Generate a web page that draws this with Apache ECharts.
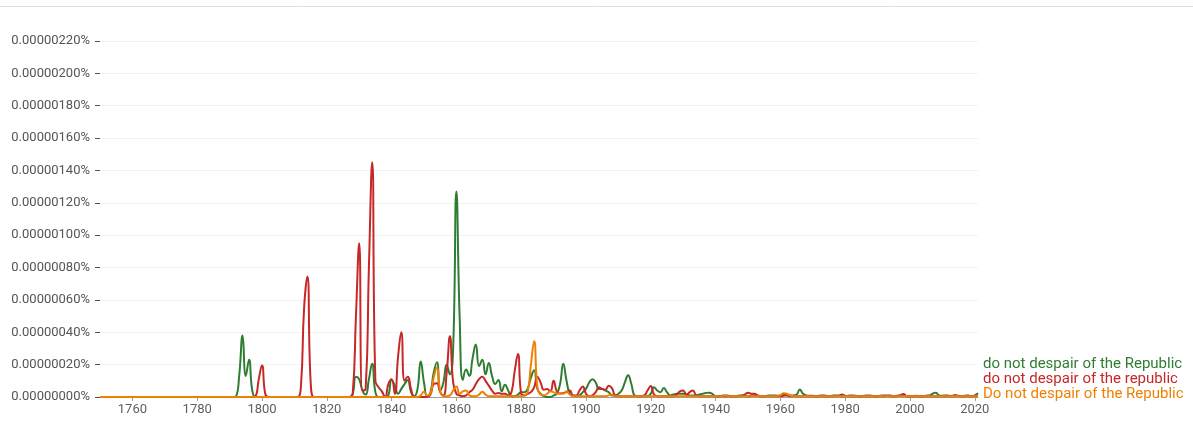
<!DOCTYPE html>
<html>
<head>
<meta charset="utf-8">
<script src="https://cdn.jsdelivr.net/npm/echarts@6/dist/echarts.min.js"></script>
<style>
html,body{margin:0;padding:0;background:#fff;}
#chart{width:1193px;height:428px;}
</style>
</head>
<body>
<div id="chart"></div>
<script>
// Values in units of 0.0000001 %
const UNIT = 1e-7;
const startYear = 1750;
const endYear = 2021;
const xTickYears = [1760,1780,1800,1820,1840,1860,1880,1900,1920,1940,1960,1980,2000,2020];
const seriesNames = ['do not despair of the Republic','do not despair of the republic','Do not despair of the Republic'];

const greenValues = [
0,0,0,0,0,0,0,0,0,0, // 1750
0,0,0,0,0,0,0,0,0,0, // 1760
0,0,0,0,0,0,0,0,0,0, // 1770
0,0,0,0,0,0,0,0,0,0, // 1780
0,0,0.05,1.4,3.8,1.3,2.3,0.4,0,0, // 1790
0,0,0,0,0,0,0,0,0,0, // 1800
0,0,0,0,0,0,0,0,0,0, // 1810
0,0,0,0,0,0,0,0,0.2,1.25, // 1820
1.1,0.4,0.15,1.1,2.05,0.3,0,0,0,0.1, // 1830
1.05,0.7,0.2,0.5,0.8,1.05,0.3,0.05,0.5,2.2, // 1840
0.9,0.05,0.3,1.5,2.15,0.4,0.9,2.0,1.4,3.0, // 1850
12.7,5.0,1.05,1.7,1.3,2.4,3.25,1.9,2.3,1.4, // 1860
2.1,1.3,0.8,1.05,0.35,0.75,0.4,0.05,0.05,0.15, // 1870
0.3,0.3,0.5,1.2,1.65,0.5,0.2,0.05,0,0, // 1880
0.1,0.2,0.8,2.05,1.0,0.2,0.1,0.05,0.1,0.3, // 1890
0.5,0.9,1.1,0.9,0.5,0.5,0.4,0.3,0.1,0.1, // 1900
0.2,0.4,0.9,1.35,0.8,0.1,0.05,0.05,0.05,0.05, // 1910
0.2,0.6,0.4,0.3,0.55,0.3,0.1,0.15,0.2,0.2, // 1920
0.2,0.15,0.1,0.1,0.1,0.15,0.2,0.25,0.27,0.2, // 1930
0.05,0.05,0.08,0.1,0.08,0.05,0.05,0.08,0.1,0.08, // 1940
0.05,0.08,0.1,0.08,0.05,0.05,0.08,0.1,0.1,0.08, // 1950
0.1,0.15,0.15,0.1,0.1,0.15,0.47,0.2,0.1,0.08, // 1960
0.08,0.05,0.08,0.1,0.08,0.05,0.08,0.1,0.08,0.05, // 1970
0.05,0.08,0.1,0.08,0.05,0.05,0.08,0.1,0.08,0.05, // 1980
0.05,0.08,0.1,0.08,0.05,0.05,0.08,0.1,0.08,0.05, // 1990
0.05,0.05,0.08,0.05,0.05,0.08,0.1,0.2,0.27,0.1, // 2000
0.08,0.1,0.08,0.05,0.05,0.08,0.05,0.08,0.1,0.05, // 2010
0.1,0.23 // 2020
];

const redValues = [
0,0,0,0,0,0,0,0,0,0, // 1750
0,0,0,0,0,0,0,0,0,0, // 1760
0,0,0,0,0,0,0,0,0,0, // 1770
0,0,0,0,0,0,0,0,0,0, // 1780
0,0,0,0,0,0,0,0,0.05,1.1, // 1790
1.95,0.2,0,0,0,0,0,0,0,0, // 1800
0,0,0.6,5.5,7.45,1.0,0,0,0,0, // 1810
0,0,0,0,0,0,0,0,0.2,5.0, // 1820
9.5,0.4,0.5,8.0,14.5,1.0,0.6,0.35,0,0.8, // 1830
1.1,0.2,2.5,4.0,1.0,1.25,0.5,0,0,0, // 1840
0,0,0.15,0.8,0.85,0.3,0.1,1.5,3.75,0.9, // 1850
0.2,0.1,0.05,0.1,0.3,0.45,0.8,1.1,1.25,1.0, // 1860
0.7,0.4,0.2,0.25,0.2,0.2,0.1,0.3,1.6,2.65, // 1870
0.2,0.1,0.2,0.3,0.6,1.25,0.9,0.45,0.5,0.35, // 1880
1.0,0.35,0.2,0.25,0.3,0.4,0.1,0.1,0.4,0.65, // 1890
0.2,0.05,0.1,0.3,0.6,0.5,0.45,0.7,0.55,0.1, // 1900
0.05,0.05,0.05,0.05,0.05,0.05,0.05,0.05,0.1,0.4, // 1910
0.68,0.15,0.05,0.05,0.05,0.05,0.05,0.05,0.15,0.35, // 1920
0.4,0.15,0.3,0.4,0.1,0.05,0.05,0.05,0.05,0.05, // 1930
0.05,0.05,0.05,0.05,0.05,0.05,0.05,0.05,0.08,0.15, // 1940
0.27,0.2,0.2,0.1,0.05,0.05,0.05,0.05,0.05,0.05, // 1950
0.05,0.08,0.1,0.05,0.05,0.05,0.05,0.05,0.05,0.05, // 1960
0.05,0.05,0.05,0.05,0.05,0.05,0.05,0.05,0.08,0.15, // 1970
0.08,0.05,0.05,0.05,0.05,0.05,0.05,0.05,0.05,0.05, // 1980
0.05,0.05,0.05,0.08,0.1,0.05,0.05,0.1,0.18,0.05, // 1990
0.05,0.05,0.05,0.05,0.05,0.05,0.05,0.05,0.05,0.05, // 2000
0.05,0.05,0.05,0.08,0.12,0.05,0.05,0.05,0.05,0.05, // 2010
0.05,0.05 // 2020
];

const orangeValues = [
0,0,0,0,0,0,0,0,0,0, // 1750
0,0,0,0,0,0,0,0,0,0, // 1760
0,0,0,0,0,0,0,0,0,0, // 1770
0,0,0,0,0,0,0,0,0,0, // 1780
0,0,0,0,0,0,0,0,0,0, // 1790
0,0,0,0,0,0,0,0,0,0, // 1800
0,0,0,0,0,0,0,0,0,0, // 1810
0,0,0,0,0,0,0,0,0,0, // 1820
0,0,0,0,0,0,0,0,0,0, // 1830
0,0,0,0,0,0,0,0,0,0.1, // 1840
0.33,0.1,0.2,1.2,1.8,0.4,0.05,0.05,0.1,0.4, // 1850
0.65,0.2,0.35,0.4,0.1,0.05,0.05,0.15,0.33,0.15, // 1860
0.05,0.05,0.05,0.05,0.05,0.05,0.05,0.05,0.05,0.05, // 1870
0.05,0.1,0.3,2.0,3.45,0.6,0.15,0.1,0.2,0.35, // 1880
0.3,0.2,0.25,0.2,0.35,0.15,0.05,0.05,0.05,0.05, // 1890
0.05,0.05,0.05,0.05,0.05,0.05,0.05,0.1,0.15,0.05, // 1900
0.05,0.05,0.05,0.05,0.05,0.05,0.05,0.05,0.05,0.05, // 1910
0.05,0.05,0.05,0.05,0.05,0.05,0.05,0.05,0.05,0.05, // 1920
0.05,0.05,0.05,0.05,0.05,0.05,0.05,0.05,0.05,0.05, // 1930
0.05,0.05,0.05,0.1,0.05,0.05,0.05,0.05,0.05,0.05, // 1940
0.05,0.05,0.05,0.05,0.05,0.05,0.05,0.05,0.05,0.05, // 1950
0.1,0.23,0.2,0.1,0.05,0.05,0.05,0.05,0.05,0.05, // 1960
0.05,0.05,0.05,0.05,0.05,0.05,0.05,0.05,0.05,0.05, // 1970
0.05,0.05,0.05,0.05,0.05,0.05,0.05,0.05,0.05,0.05, // 1980
0.05,0.05,0.05,0.05,0.05,0.05,0.05,0.05,0.05,0.05, // 1990
0.05,0.05,0.05,0.05,0.05,0.05,0.05,0.05,0.05,0.05, // 2000
0.05,0.05,0.05,0.05,0.05,0.05,0.05,0.05,0.05,0.05, // 2010
0.05,0.05 // 2020
];

const colors = ['#2e7d32', '#c62828', '#f08000'];
const labelOffsets = [[0,-29],[0,-17],[0,-2]];

function toPairs(vals){ return vals.map((v,i)=>[startYear+i, v]); }
const allValues = [greenValues, redValues, orangeValues];

const chart = echarts.init(document.getElementById('chart'), null, {renderer:'canvas'});
chart.setOption({
  animation: false,
  backgroundColor: '#fff',
  textStyle: {fontFamily: 'Roboto'},
  graphic: [{type:'line', shape:{x1:0,y1:6.5,x2:1193,y2:6.5}, style:{stroke:'#e0e0e0', lineWidth:1}}],
  grid: {left: 100, right: 215, top: 41, bottom: 31, containLabel: false},
  xAxis: {
    type: 'value', min: startYear, max: endYear,
    axisLine: {show: true, lineStyle: {color: '#9e9e9e', width: 1}},
    axisTick: {show: true, length: 4, lineStyle: {color: '#9e9e9e'}, customValues: xTickYears},
    axisLabel: {color: '#5f5f5f', fontSize: 13, margin: 6, customValues: xTickYears, formatter: v => String(v)},
    splitLine: {show: false}
  },
  yAxis: {
    type: 'value', min: 0, max: 22, interval: 2,
    axisLine: {show: false},
    axisTick: {show: true, length: 5, lineStyle: {color: '#555'}},
    axisLabel: {color: '#555', fontSize: 13, margin: 10, formatter: v => (v*UNIT).toFixed(8) + '%'},
    splitLine: {show: true, lineStyle: {color: '#f2f2f2', width: 1}}
  },
  series: allValues.map((vals, i) => ({
    name: seriesNames[i],
    type: 'line',
    data: toPairs(vals),
    smooth: 0.5,
    showSymbol: false,
    lineStyle: {color: colors[i], width: 2},
    itemStyle: {color: colors[i]},
    endLabel: {show: true, formatter: '{a}', color: colors[i], fontSize: 15, distance: 5, offset: labelOffsets[i]}
  }))
});
</script>
</body>
</html>
